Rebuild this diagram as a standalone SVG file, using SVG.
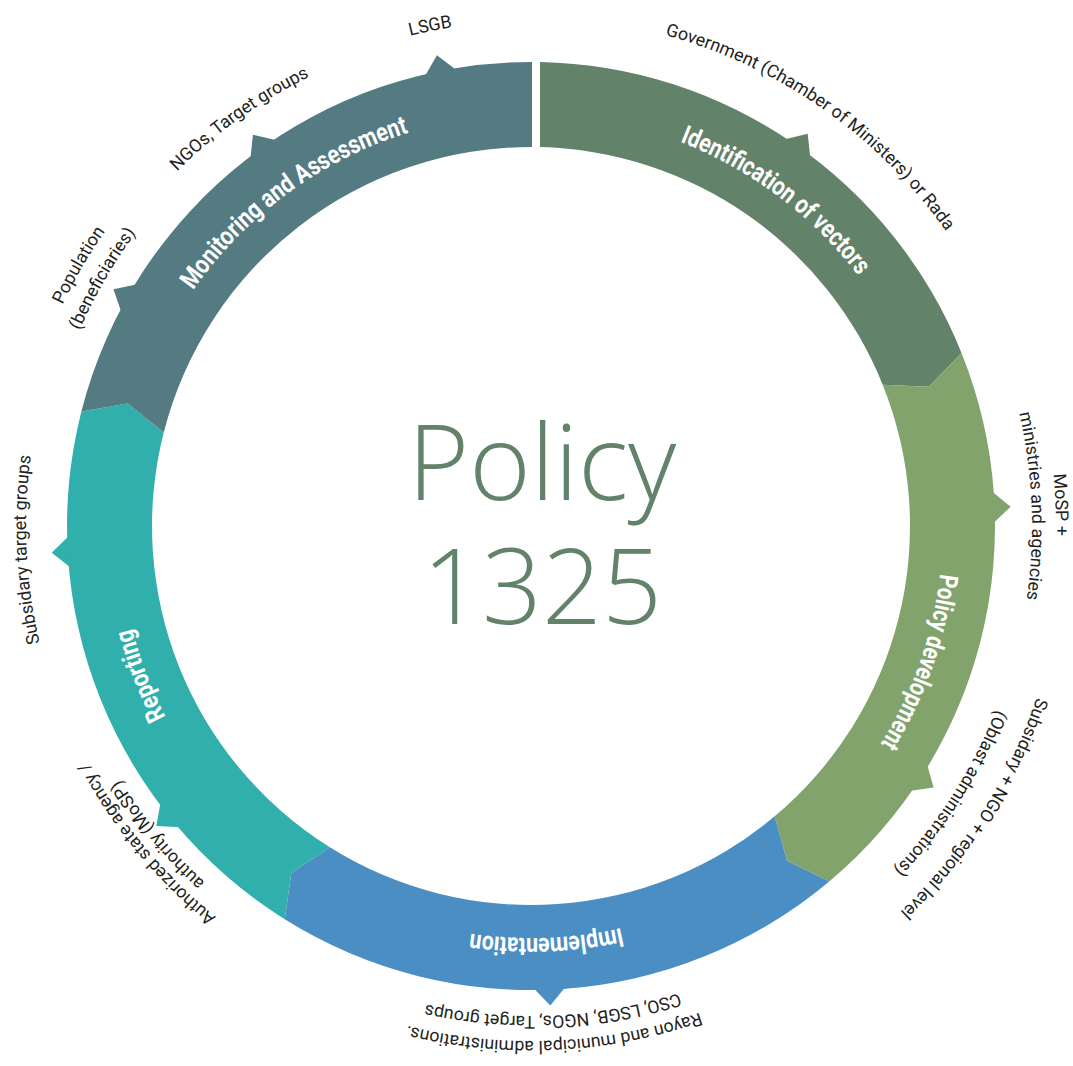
<svg xmlns="http://www.w3.org/2000/svg" width="1073" height="1066" viewBox="0 0 1073 1066">
<style>
.seg{font-family:Roboto,"Liberation Sans",sans-serif;font-weight:700;font-size:26px;fill:#ffffff;text-anchor:middle}
.lbl{font-family:Roboto,"Liberation Sans",sans-serif;font-weight:400;font-size:17.8px;fill:#231f20;text-anchor:middle}
.title{font-family:"Open Sans","Liberation Sans",sans-serif;font-weight:300;font-size:105px;fill:#62836a;text-anchor:middle}
.c-mon{fill:#547a82}.c-id{fill:#62836a}.c-pol{fill:#82a46c}.c-imp{fill:#4a8ec4}.c-rep{fill:#31afac}
</style>
<defs>
<path id="notch" d="M992.72,509.88 L1011,526 L992.72,542.12 Z"/>
<path id="r412" d="M531,114 A412 412 0 0 1 531,938"/>
<path id="r483" d="M531,43 A483 483 0 0 1 531,1009"/>
<path id="r490" d="M531,36 A490 490 0 0 1 531,1016"/>
<path id="r492" d="M531,34 A492 492 0 0 1 531,1018"/>
<path id="r500" d="M531,26 A500 500 0 0 1 531,1026"/>
<path id="r501" d="M531,25 A501 501 0 0 1 531,1027"/>
<path id="r502" d="M531,24 A502 502 0 0 1 531,1028"/>
<path id="r505" d="M531,21 A505 505 0 0 1 531,1031"/>
<path id="r509" d="M531,17 A509 509 0 0 1 531,1035"/>
<path id="r515" d="M531,11 A515 515 0 0 1 531,1041"/>
<path id="r518" d="M531,8 A518 518 0 0 1 531,1044"/>
<path id="r525" d="M531,1 A525 525 0 0 1 531,1051"/>
<path id="r534" d="M531,-8 A534 534 0 0 1 531,1060"/>
</defs>
<rect width="1073" height="1066" fill="#ffffff"/>
<g id="connectors"></g>

<g id="identification">
<path class="c-id" d="M540,62.09 A464 464 0 0 1 961.52,352.93 L928.81,386.69 L882.65,384.64 A379 379 0 0 0 540,147.11 Z"/>
<use href="#notch" class="c-id" transform="rotate(-54.8 531 526)"/>
<text class="seg" transform="rotate(-53.1 531 526)"><textPath href="#r412" startOffset="50%" textLength="226" lengthAdjust="spacingAndGlyphs">Identification of vectors</textPath></text>
<text class="lbl" transform="rotate(-55.05 531 526)"><textPath href="#r509" startOffset="50%">Government (Chamber of Ministers) or Rada</textPath></text>
</g>

<g id="policy-development">
<path class="c-pol" d="M961.52,352.93 A464 464 0 0 1 829.25,881.44 L787.01,860.84 L774.62,816.33 A379 379 0 0 0 882.65,384.64 L928.81,386.69 Z"/>
<use href="#notch" class="c-pol" transform="rotate(-2.3 531 526)"/>
<use href="#notch" class="c-pol" transform="rotate(33 531 526)"/>
<text class="seg" transform="rotate(19.3 531 526)"><textPath href="#r412" startOffset="50%" textLength="182" lengthAdjust="spacingAndGlyphs">Policy development</textPath></text>
<text class="lbl" transform="rotate(-2.3 531 526)"><textPath href="#r525" startOffset="50%">MoSP +</textPath></text>
<text class="lbl" transform="rotate(-2.3 531 526)"><textPath href="#r501" startOffset="50%">ministries and agencies</textPath></text>
<text class="lbl" transform="rotate(32.5 531 526)"><textPath href="#r534" startOffset="50%">Subsidary + NGO + regional level</textPath></text>
<text class="lbl" transform="rotate(32.5 531 526)"><textPath href="#r500" startOffset="50%">(Oblast administrations)</textPath></text>
</g>

<g id="implementation">
<path class="c-imp" d="M829.25,881.44 A464 464 0 0 1 284.75,919.27 L291.35,872.74 L329.86,847.23 A379 379 0 0 0 774.62,816.33 L787.01,860.84 Z"/>
<use href="#notch" class="c-imp" transform="rotate(87.7 531 526)"/>
<text class="seg" transform="rotate(87.9 531 526)"><textPath href="#r412" startOffset="50%" textLength="152" lengthAdjust="spacingAndGlyphs">Implementation</textPath></text>
<text class="lbl" transform="rotate(87.4 531 526)"><textPath href="#r515" startOffset="50%">Rayon and municipal administrations.</textPath></text>
<text class="lbl" transform="rotate(87.4 531 526)"><textPath href="#r490" startOffset="50%">CSO, LSGB, NGOs, Target groups</textPath></text>
</g>

<g id="reporting">
<path class="c-rep" d="M284.75,919.27 A464 464 0 0 1 81.38,411.39 L127.70,403.47 L163.75,432.39 A379 379 0 0 0 329.86,847.23 L291.35,872.74 Z"/>
<use href="#notch" class="c-rep" transform="rotate(176.8 531 526)"/>
<use href="#notch" class="c-rep" transform="rotate(141.3 531 526)"/>
<text class="seg" transform="rotate(159 531 526)"><textPath href="#r412" startOffset="50%" textLength="95" lengthAdjust="spacingAndGlyphs">Reporting</textPath></text>
<text class="lbl" transform="rotate(177.3 531 526)"><textPath href="#r505" startOffset="50%">Subsidary target groups</textPath></text>
<text class="lbl" transform="rotate(140.4 531 526)"><textPath href="#r502" startOffset="50%">Authorized state agency /</textPath></text>
<text class="lbl" transform="rotate(140.4 531 526)"><textPath href="#r483" startOffset="50%">authority (MoSP)</textPath></text>
</g>

<g id="monitoring">
<path class="c-mon" d="M81.38,411.39 A464 464 0 0 1 532,62 L532,147 A379 379 0 0 0 163.75,432.39 L127.70,403.47 Z"/>
<use href="#notch" class="c-mon" transform="rotate(258.7 531 526)"/>
<use href="#notch" class="c-mon" transform="rotate(234.6 531 526)"/>
<use href="#notch" class="c-mon" transform="rotate(209.55 531 526)"/>
<text class="seg" transform="rotate(233.8 531 526)"><textPath href="#r412" startOffset="50%" textLength="272" lengthAdjust="spacingAndGlyphs">Monitoring and Assessment</textPath></text>
<text class="lbl" transform="rotate(258.6 531 526)"><textPath href="#r505" startOffset="50%">LSGB</textPath></text>
<text class="lbl" transform="rotate(234.4 531 526)"><textPath href="#r501" startOffset="50%">NGOs, Target groups</textPath></text>
<text class="lbl" transform="rotate(210 531 526)"><textPath href="#r518" startOffset="50%">Population</textPath></text>
<text class="lbl" transform="rotate(210 531 526)"><textPath href="#r492" startOffset="50%">(beneficiaries)</textPath></text>
</g>

<g id="title">
<text class="title"><tspan x="542" y="500">Policy</tspan><tspan x="542" y="624">1325</tspan></text>
</g>
</svg>
